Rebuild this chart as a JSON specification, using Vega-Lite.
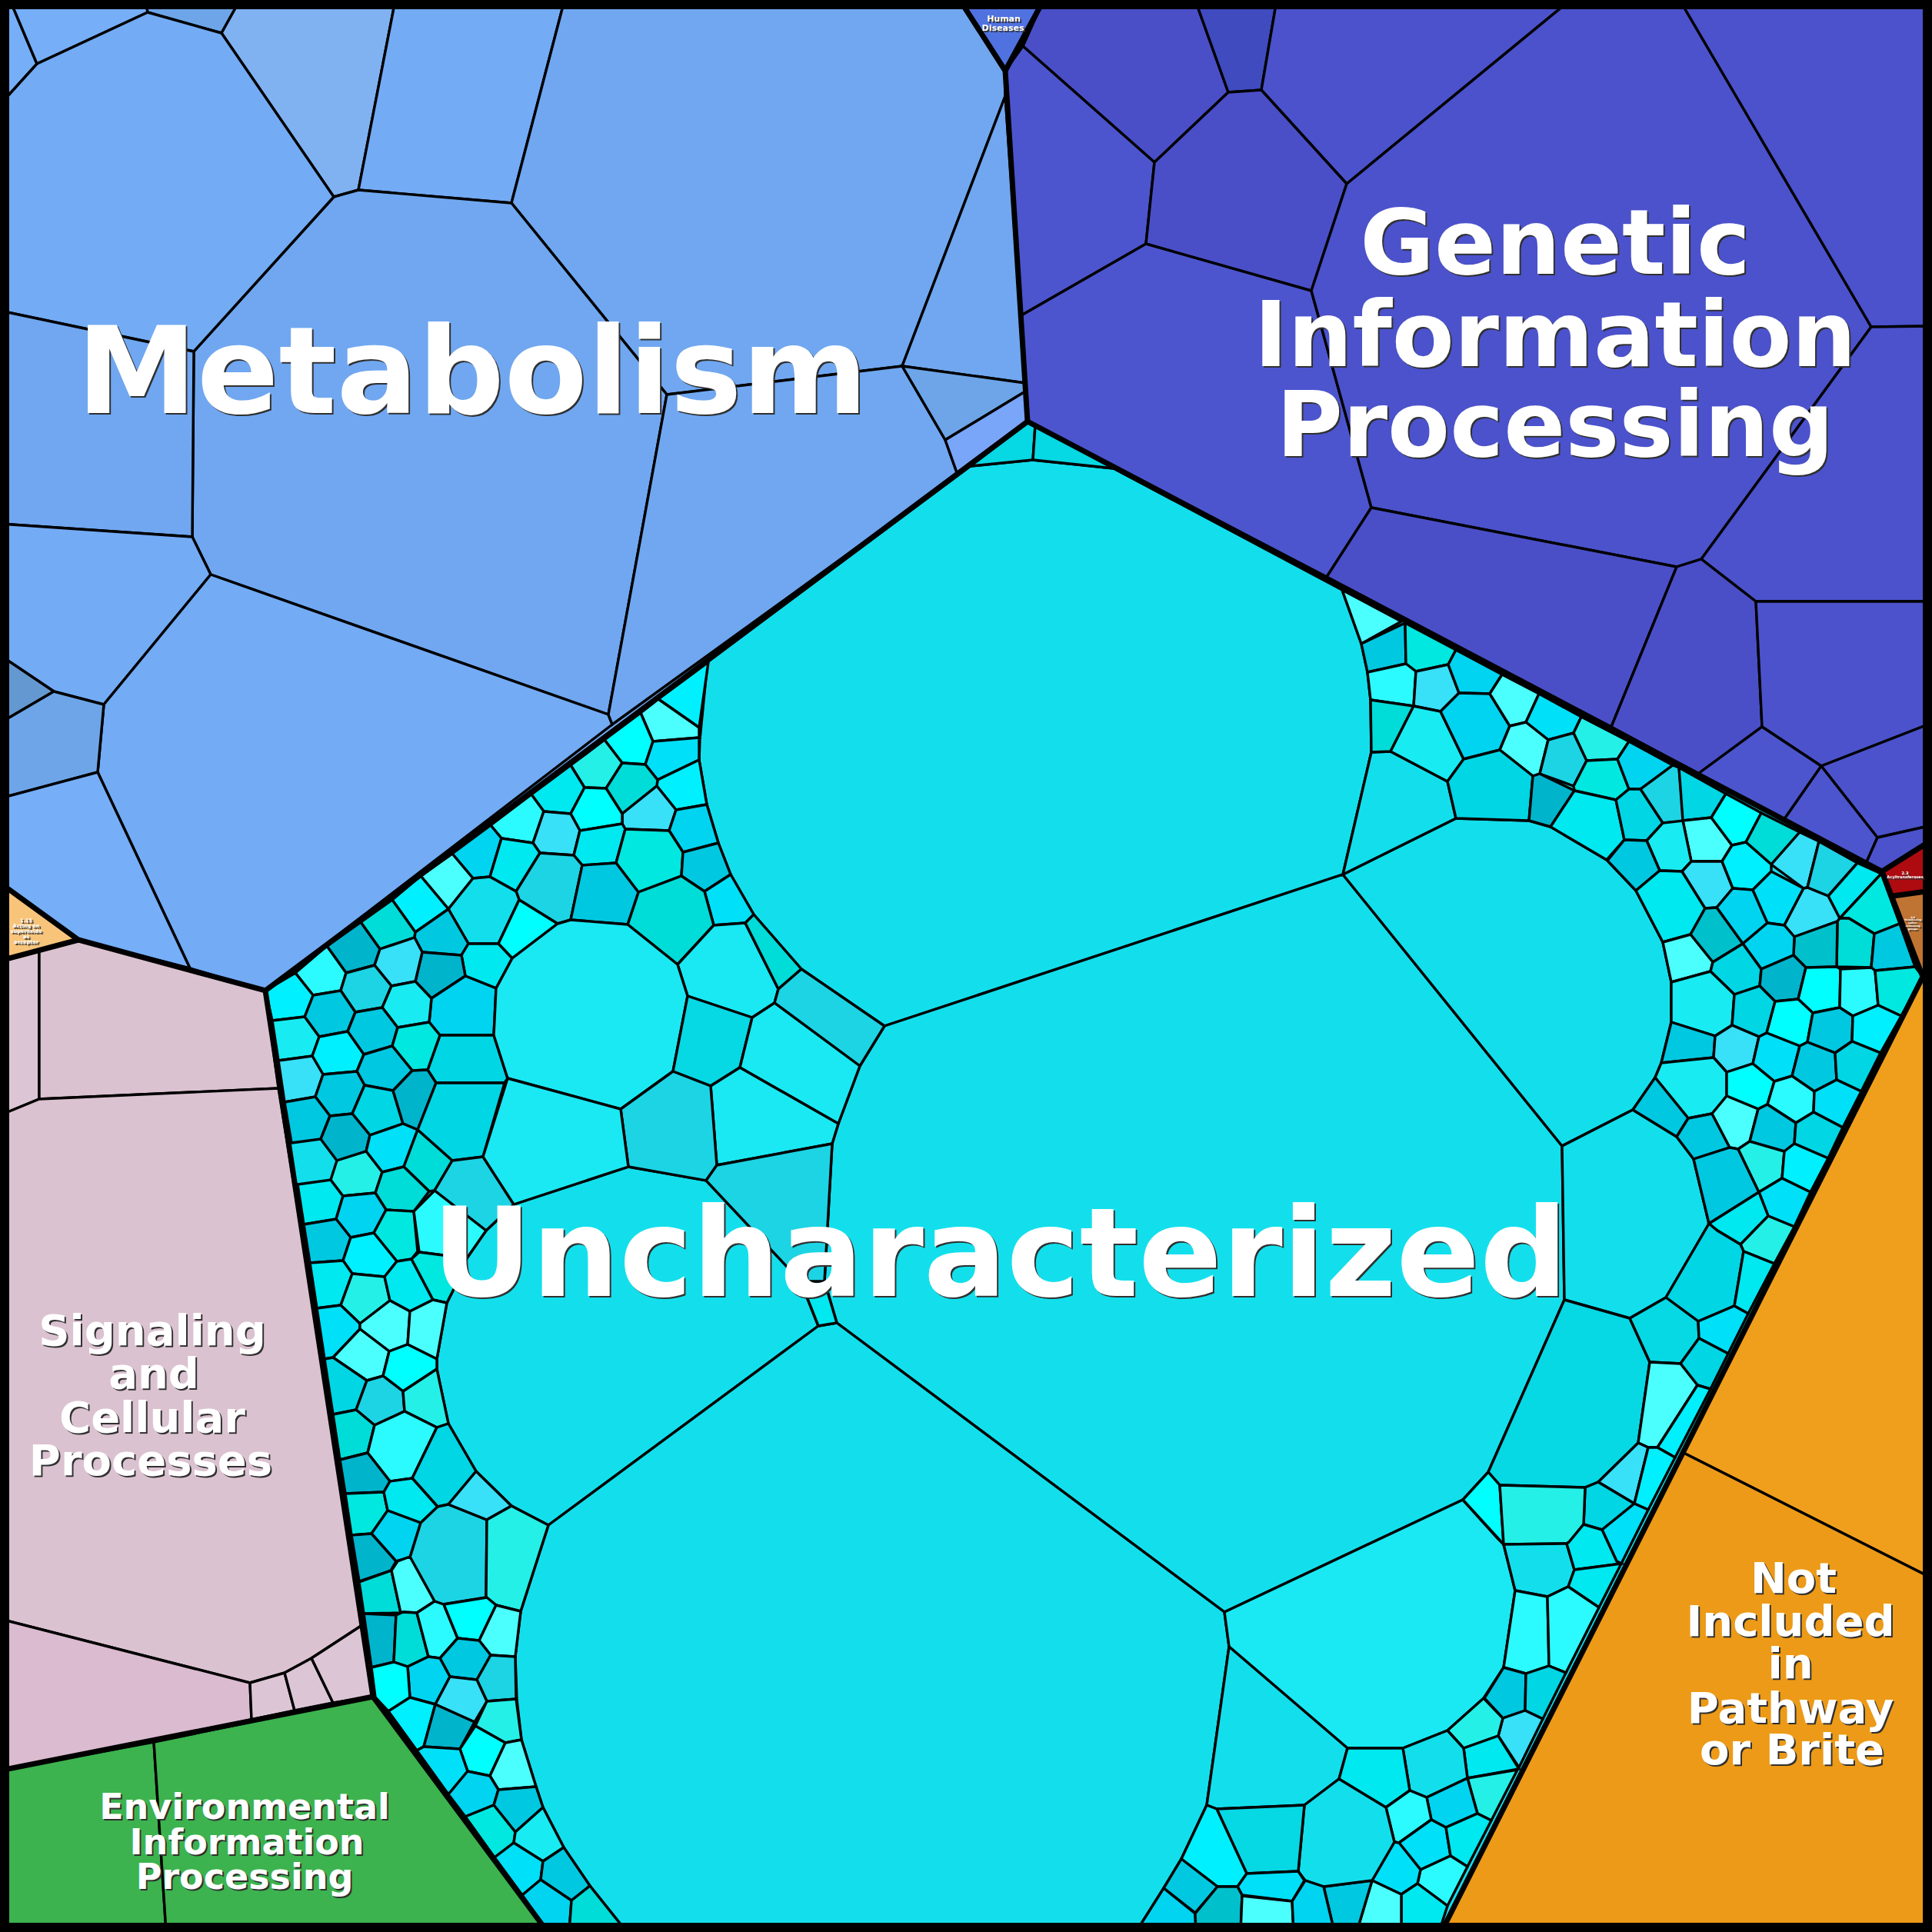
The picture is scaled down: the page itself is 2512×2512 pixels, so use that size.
{"$schema":"https://vega.github.io/schema/vega-lite/v6.json","width":2512,"height":2512,"padding":0,"autosize":"none","background":"white","config":{"view":{"stroke":null}},
"datasets":{
"cells":[
{"id":"R1","s":"mB","p":[[0,0],[1248,0],[1307,92],[1336,548],[345,1288],[102,1222],[0,1148]]},
{"id":"R2","s":"gA","p":[[1357,0],[2512,0],[2512,1092],[2447,1133],[1336,548],[1307,92]]},
{"id":"R3","s":"uP","p":[[345,1288],[1336,548],[2447,1133],[2500,1270],[1874,2512],[712,2512],[485,2206]]},
{"id":"m1","s":"mA","p":[[0,0],[13,0],[48,83],[0,136]]},
{"id":"m2","s":"mA","p":[[13,0],[189,0],[192,16],[48,83]]},
{"id":"m3","s":"mC","p":[[189,0],[312,0],[288,43],[192,16]]},
{"id":"m4","s":"mD","p":[[312,0],[514,0],[466,247],[434,256],[288,43]]},
{"id":"m5","s":"mG","p":[[514,0],[734,0],[665,264],[466,247]]},
{"id":"m6","s":"mB","p":[[734,0],[1248,0],[1307,92],[1307,125],[1173,476],[867,513],[665,264]]},
{"id":"m7","s":"mB","p":[[434,256],[466,247],[665,264],[867,513],[791,929],[274,747],[250,698],[252,457]]},
{"id":"m8","s":"mG","p":[[0,136],[48,83],[192,16],[288,43],[434,256],[252,457],[0,404]]},
{"id":"m9","s":"mB","p":[[0,404],[252,457],[250,698],[0,681]]},
{"id":"m10","s":"mG","p":[[0,681],[250,698],[274,747],[135,916],[70,899],[0,852]]},
{"id":"m11","s":"mG","p":[[274,747],[791,929],[796,942],[345,1288],[247,1259],[127,1004],[135,916]]},
{"id":"m12","s":"mE","p":[[0,852],[70,899],[0,940]]},
{"id":"m13","s":"mC","p":[[0,940],[70,899],[135,916],[127,1004],[0,1038]]},
{"id":"m14","s":"mA","p":[[0,1038],[127,1004],[247,1259],[102,1222],[0,1148]]},
{"id":"m15","s":"mB","p":[[867,513],[1173,476],[1229,572],[1245,617],[796,942],[791,929]]},
{"id":"m16","s":"mB","p":[[1173,476],[1307,125],[1333,498]]},
{"id":"m17","s":"mC","p":[[1173,476],[1333,498],[1333,509],[1229,572]]},
{"id":"m18","s":"mF","p":[[1229,572],[1333,509],[1336,548],[1245,617]]},
{"id":"h1","s":"hA","p":[[1248,0],[1357,0],[1307,92]]},
{"id":"g1","s":"gB","p":[[1357,0],[1554,0],[1597,120],[1501,211],[1330,60]]},
{"id":"g2","s":"gC","p":[[1554,0],[1660,0],[1640,117],[1597,120]]},
{"id":"g3","s":"gA","p":[[1660,0],[2042,0],[1751,239],[1640,117]]},
{"id":"g4","s":"gD","p":[[1330,60],[1501,211],[1490,317],[1328,410],[1307,92]]},
{"id":"g5","s":"gB","p":[[1501,211],[1597,120],[1640,117],[1751,239],[1705,378],[1490,317]]},
{"id":"g6","s":"gD","p":[[1328,410],[1490,317],[1705,378],[1783,660],[1725,750],[1336,548]]},
{"id":"g7","s":"gA","p":[[2042,0],[2184,0],[2433,425],[2212,727],[2180,737],[1783,660],[1705,378],[1751,239]]},
{"id":"g8","s":"gA","p":[[2184,0],[2512,0],[2512,424],[2433,425]]},
{"id":"g9","s":"gA","p":[[2433,425],[2512,424],[2512,782],[2283,782],[2212,727]]},
{"id":"g10","s":"gB","p":[[1783,660],[2180,737],[2095,945],[1725,750]]},
{"id":"g11","s":"gB","p":[[2180,737],[2212,727],[2283,782],[2291,945],[2208,1006],[2095,945]]},
{"id":"g12","s":"gA","p":[[2283,782],[2512,782],[2512,940],[2368,996],[2291,945]]},
{"id":"g13","s":"gD","p":[[2291,945],[2368,996],[2320,1065],[2208,1006]]},
{"id":"g14","s":"gA","p":[[2368,996],[2512,940],[2512,1073],[2441,1089]]},
{"id":"g15","s":"gD","p":[[2368,996],[2441,1089],[2425,1125],[2320,1065]]},
{"id":"g16","s":"gA","p":[[2441,1089],[2512,1073],[2512,1092],[2447,1133],[2425,1125]]},
{"id":"r1","s":"rA","p":[[2447,1133],[2512,1092],[2512,1158],[2461,1165]]},
{"id":"b1","s":"bA","p":[[2461,1165],[2512,1158],[2512,1275],[2500,1270]]},
{"id":"n1","s":"nA","p":[[2500,1270],[2512,1250],[2512,2052],[2187,1888]]},
{"id":"n2","s":"nB","p":[[2187,1888],[2512,2052],[2512,2512],[1874,2512]]},
{"id":"o1","s":"oA","p":[[0,1148],[102,1222],[0,1249]]},
{"id":"s1","s":"sB","p":[[0,1249],[51,1235],[51,1429],[0,1450]]},
{"id":"s2","s":"sA","p":[[51,1235],[102,1222],[345,1288],[362,1415],[51,1429]]},
{"id":"s3","s":"sA","p":[[0,1450],[51,1429],[362,1415],[474,2111],[405,2156],[370,2175],[325,2188],[0,2105]]},
{"id":"s4","s":"sC","p":[[0,2105],[325,2188],[327,2236],[0,2302]]},
{"id":"s5","s":"sB","p":[[325,2188],[370,2175],[383,2224],[327,2236]]},
{"id":"s6","s":"sB","p":[[370,2175],[405,2156],[433,2214],[383,2224]]},
{"id":"s7","s":"sB","p":[[405,2156],[474,2111],[485,2206],[433,2214]]},
{"id":"e1","s":"eA","p":[[0,2302],[200,2265],[216,2512],[0,2512]]},
{"id":"e2","s":"eA","p":[[200,2265],[485,2206],[712,2512],[216,2512]]},
{"id":"U1","s":"uP","p":[[920,860],[910,961],[909,988],[919,1046],[934,1096],[950,1137],[980,1189],[1042,1260],[1150,1334],[1746,1137],[1783,978],[1782,910],[1778,874],[1770,837],[1745,767],[1448,609],[1343,598],[1262,606]]},
{"id":"U1a","s":"uT","p":[[1262,606],[1343,598],[1346,553],[1336,548]]},
{"id":"U1b","s":"uT","p":[[1343,598],[1448,609],[1346,553]]},
{"id":"U2","s":"uP","p":[[1150,1334],[1746,1137],[2031,1490],[2034,1690],[1935,1914],[1902,1950],[1592,2096],[1088,1720],[1072,1666],[1082,1487],[1090,1461],[1118,1386]]},
{"id":"U3","s":"uP","p":[[668,1566],[817,1517],[920,1535],[1041,1666],[1064,1724],[713,1983],[665,1958],[619,1913],[583,1851],[568,1780],[568,1767],[581,1694],[590,1676],[607,1636],[632,1600]]},
{"id":"U4","s":"uP","p":[[713,1983],[1064,1724],[1088,1720],[1592,2096],[1598,2141],[1569,2347],[1536,2417],[1513,2455],[1477,2512],[815,2512],[767,2452],[733,2402],[706,2350],[697,2323],[678,2262],[672,2210],[670,2153],[677,2095]]},
{"id":"U5","s":"uQ","p":[[1592,2096],[1902,1950],[1947,2000],[1955,2008],[1970,2068],[1955,2168],[1929,2208],[1882,2250],[1824,2273],[1752,2273],[1598,2141]]},
{"id":"U6","s":"uP","p":[[1598,2141],[1752,2273],[1741,2313],[1696,2347],[1582,2352],[1569,2347]]},
{"id":"U7","s":"uP","p":[[1746,1137],[1893,1064],[1988,1067],[2016,1075],[2089,1118],[2127,1158],[2162,1225],[2173,1277],[2173,1329],[2160,1382],[2152,1401],[2123,1443],[2031,1490]]},
{"id":"U8","s":"uP","p":[[1783,978],[1808,977],[1882,1016],[1893,1064],[1746,1137]]},
{"id":"U9","s":"uP","p":[[2031,1490],[2123,1443],[2180,1478],[2202,1507],[2222,1591],[2166,1687],[2119,1714],[2034,1690]]},
{"id":"U10","s":"uT","p":[[2034,1690],[2119,1714],[2145,1771],[2130,1876],[2078,1927],[2061,1934],[1950,1931],[1935,1914]]},
{"id":"U11","s":"uC","p":[[1041,1666],[1072,1666],[1088,1720],[1064,1724]]},
{"id":"c1","s":"uB","p":[[921,861],[909,946],[856,909]]},
{"id":"c2","s":"uM","p":[[856,909],[909,946],[909,959],[849,964],[833,927]]},
{"id":"c3","s":"uA","p":[[833,927],[849,964],[839,994],[809,992],[786,962]]},
{"id":"c4","s":"uD","p":[[849,964],[909,959],[909,988],[855,1014],[839,994]]},
{"id":"c5","s":"uB","p":[[909,988],[919,1046],[879,1053],[854,1022],[855,1014]]},
{"id":"c6","s":"uK","p":[[786,962],[809,992],[788,1025],[760,1024],[742,995]]},
{"id":"c7","s":"uI","p":[[809,992],[839,994],[855,1014],[854,1022],[809,1058],[788,1025]]},
{"id":"c8","s":"uN","p":[[854,1022],[879,1053],[870,1080],[813,1078],[809,1071],[809,1058]]},
{"id":"c9","s":"uC","p":[[742,995],[760,1024],[742,1058],[707,1055],[691,1033]]},
{"id":"c10","s":"uA","p":[[760,1024],[788,1025],[809,1058],[809,1071],[754,1080],[742,1058]]},
{"id":"c11","s":"uL","p":[[691,1033],[707,1055],[693,1096],[652,1090],[638,1073]]},
{"id":"c12","s":"uN","p":[[707,1055],[742,1058],[754,1080],[746,1112],[702,1109],[693,1096]]},
{"id":"c13","s":"uC","p":[[754,1080],[809,1071],[813,1078],[801,1122],[757,1125],[746,1112]]},
{"id":"c14","s":"uE","p":[[919,1046],[934,1096],[888,1108],[870,1080],[879,1053]]},
{"id":"c15","s":"uJ","p":[[813,1078],[870,1080],[888,1108],[886,1139],[830,1160],[801,1122]]},
{"id":"c16","s":"uF","p":[[934,1096],[950,1137],[916,1159],[886,1139],[888,1108]]},
{"id":"c17","s":"uD","p":[[950,1137],[980,1189],[969,1200],[928,1203],[916,1159]]},
{"id":"c18","s":"uI","p":[[886,1139],[916,1159],[928,1203],[881,1254],[816,1202],[830,1160]]},
{"id":"c19","s":"uE","p":[[588,1110],[638,1073],[652,1090],[637,1140],[615,1142]]},
{"id":"c20","s":"uC","p":[[652,1090],[693,1096],[702,1109],[671,1159],[637,1140]]},
{"id":"c21","s":"uO","p":[[702,1109],[746,1112],[757,1125],[742,1196],[725,1201],[675,1170],[671,1159]]},
{"id":"c22","s":"uF","p":[[757,1125],[801,1122],[830,1160],[816,1202],[742,1196]]},
{"id":"c23","s":"uM","p":[[547,1139],[588,1110],[615,1142],[583,1182]]},
{"id":"c24","s":"uP","p":[[615,1142],[637,1140],[671,1159],[675,1170],[648,1227],[609,1227],[583,1182]]},
{"id":"c25","s":"uA","p":[[675,1170],[725,1201],[666,1246],[648,1227]]},
{"id":"c26","s":"uB","p":[[510,1170],[547,1139],[583,1182],[540,1212]]},
{"id":"c27","s":"uI","p":[[469,1199],[510,1170],[540,1212],[539,1219],[494,1234]]},
{"id":"c28","s":"uF","p":[[583,1182],[609,1227],[600,1242],[549,1238],[539,1219],[540,1212]]},
{"id":"c29","s":"uC","p":[[609,1227],[648,1227],[666,1246],[645,1285],[605,1269],[600,1242]]},
{"id":"c30","s":"uG","p":[[549,1238],[600,1242],[605,1269],[561,1298],[540,1276]]},
{"id":"c31","s":"uE","p":[[605,1269],[645,1285],[642,1346],[572,1346],[558,1329],[561,1298]]},
{"id":"c32","s":"uH","p":[[572,1346],[642,1346],[660,1402],[656,1408],[567,1408],[556,1391]]},
{"id":"c33","s":"uG","p":[[425,1230],[469,1199],[494,1234],[487,1255],[450,1265]]},
{"id":"c34","s":"uN","p":[[494,1234],[539,1219],[549,1238],[540,1276],[509,1282],[487,1255]]},
{"id":"c35","s":"uL","p":[[384,1265],[425,1230],[450,1265],[443,1288],[407,1294]]},
{"id":"c36","s":"uO","p":[[450,1265],[487,1255],[509,1282],[497,1310],[462,1316],[443,1288]]},
{"id":"c37","s":"uS","p":[[509,1282],[540,1276],[561,1298],[558,1329],[517,1336],[497,1310]]},
{"id":"c38","s":"uF","p":[[407,1294],[443,1288],[462,1316],[452,1341],[415,1348],[396,1322]]},
{"id":"c39","s":"uF","p":[[462,1316],[497,1310],[517,1336],[510,1360],[473,1371],[452,1341]]},
{"id":"c40","s":"uJ","p":[[517,1336],[558,1329],[572,1346],[556,1391],[536,1392],[510,1360]]},
{"id":"c41","s":"uB","p":[[345,1288],[384,1265],[407,1294],[396,1322],[354,1327]]},
{"id":"c42","s":"uS","p":[[354,1327],[396,1322],[415,1348],[406,1373],[362,1379]]},
{"id":"c43","s":"uB","p":[[415,1348],[452,1341],[473,1371],[464,1393],[420,1397],[406,1373]]},
{"id":"c44","s":"uN","p":[[362,1379],[406,1373],[420,1397],[410,1426],[370,1433]]},
{"id":"c45","s":"uF","p":[[473,1371],[510,1360],[536,1392],[511,1418],[474,1411],[464,1393]]},
{"id":"c46","s":"uF","p":[[420,1397],[464,1393],[474,1411],[458,1448],[429,1451],[410,1426]]},
{"id":"c47","s":"uH","p":[[474,1411],[511,1418],[524,1461],[481,1476],[458,1448]]},
{"id":"c48","s":"uG","p":[[536,1392],[556,1391],[567,1408],[543,1469],[524,1461],[511,1418]]},
{"id":"c49","s":"uF","p":[[370,1433],[410,1426],[429,1451],[417,1481],[379,1486]]},
{"id":"c50","s":"uG","p":[[429,1451],[458,1448],[481,1476],[476,1497],[438,1509],[417,1481]]},
{"id":"c51","s":"uD","p":[[481,1476],[524,1461],[543,1469],[525,1517],[497,1524],[476,1497]]},
{"id":"c52","s":"uH","p":[[543,1469],[567,1408],[656,1408],[628,1504],[588,1509]]},
{"id":"c53","s":"uI","p":[[543,1469],[588,1509],[565,1548],[558,1549],[525,1517]]},
{"id":"c54","s":"uO","p":[[588,1509],[628,1504],[668,1566],[632,1600],[565,1548]]},
{"id":"c55","s":"uC","p":[[387,1540],[430,1534],[446,1555],[437,1585],[395,1592]]},
{"id":"c56","s":"uK","p":[[438,1509],[476,1497],[497,1524],[488,1551],[446,1555],[430,1534]]},
{"id":"c57","s":"uI","p":[[497,1524],[525,1517],[558,1549],[538,1575],[502,1573],[488,1551]]},
{"id":"c58","s":"uE","p":[[446,1555],[488,1551],[502,1573],[486,1603],[456,1609],[437,1585]]},
{"id":"c59","s":"uF","p":[[395,1592],[437,1585],[456,1609],[446,1639],[403,1642]]},
{"id":"c60","s":"uJ","p":[[486,1603],[502,1573],[538,1575],[543,1627],[535,1637],[516,1640]]},
{"id":"c61","s":"uB","p":[[456,1609],[486,1603],[516,1640],[500,1660],[458,1656],[446,1639]]},
{"id":"c62","s":"uL","p":[[538,1575],[565,1548],[632,1600],[607,1636],[545,1628]]},
{"id":"c63","s":"uC","p":[[403,1642],[446,1639],[458,1656],[443,1697],[412,1701]]},
{"id":"c64","s":"uK","p":[[458,1656],[500,1660],[507,1691],[468,1721],[443,1697]]},
{"id":"c65","s":"uC","p":[[500,1660],[516,1640],[535,1637],[563,1690],[533,1705],[507,1691]]},
{"id":"c66","s":"uJ","p":[[535,1637],[545,1628],[607,1636],[590,1676],[581,1694],[563,1690]]},
{"id":"c67","s":"uD","p":[[412,1701],[443,1697],[468,1721],[468,1728],[433,1765],[422,1767]]},
{"id":"c68","s":"uM","p":[[468,1721],[507,1691],[533,1705],[530,1748],[506,1757],[468,1728]]},
{"id":"c69","s":"uM","p":[[533,1705],[563,1690],[581,1694],[568,1767],[530,1748]]},
{"id":"c70","s":"uM","p":[[433,1765],[468,1728],[506,1757],[498,1789],[477,1795]]},
{"id":"c71","s":"uA","p":[[506,1757],[530,1748],[568,1767],[568,1780],[524,1809],[498,1789]]},
{"id":"c72","s":"uH","p":[[422,1767],[433,1765],[477,1795],[463,1833],[433,1839]]},
{"id":"c73","s":"uO","p":[[477,1795],[498,1789],[524,1809],[526,1835],[487,1853],[463,1833]]},
{"id":"c74","s":"uK","p":[[524,1809],[568,1780],[583,1851],[568,1856],[526,1835]]},
{"id":"c75","s":"uI","p":[[433,1839],[463,1833],[487,1853],[478,1889],[442,1898]]},
{"id":"c76","s":"uL","p":[[487,1853],[526,1835],[568,1856],[536,1922],[507,1926],[478,1889]]},
{"id":"c77","s":"uH","p":[[568,1856],[583,1851],[619,1913],[583,1956],[569,1959],[536,1922]]},
{"id":"c78","s":"uG","p":[[442,1898],[478,1889],[507,1926],[499,1940],[449,1942]]},
{"id":"c79","s":"uJ","p":[[449,1942],[499,1940],[504,1964],[483,1994],[457,1996]]},
{"id":"c80","s":"uC","p":[[507,1926],[536,1922],[569,1959],[547,1980],[504,1964],[499,1940]]},
{"id":"c81","s":"uE","p":[[504,1964],[547,1980],[533,2025],[515,2030],[483,1994]]},
{"id":"c82","s":"uO","p":[[547,1980],[569,1959],[583,1956],[633,1976],[632,2077],[576,2086],[565,2082],[533,2025]]},
{"id":"c83","s":"uN","p":[[583,1956],[619,1913],[665,1958],[633,1976]]},
{"id":"c84","s":"uK","p":[[633,1976],[665,1958],[713,1983],[677,2095],[645,2087],[632,2077]]},
{"id":"c85","s":"uG","p":[[457,1996],[483,1994],[515,2030],[508,2042],[467,2056]]},
{"id":"c86","s":"uI","p":[[467,2057],[509,2042],[521,2097],[473,2098]]},
{"id":"c87","s":"uM","p":[[509,2042],[517,2030],[533,2024],[565,2082],[542,2097],[524,2096],[521,2097]]},
{"id":"c88","s":"uG","p":[[473,2098],[515,2100],[512,2161],[483,2168]]},
{"id":"c89","s":"uI","p":[[515,2100],[524,2096],[542,2097],[557,2154],[530,2167],[512,2161]]},
{"id":"c90","s":"uL","p":[[542,2097],[565,2082],[577,2086],[595,2130],[572,2156],[557,2154]]},
{"id":"c91","s":"uA","p":[[577,2086],[633,2077],[645,2087],[623,2133],[595,2130]]},
{"id":"c92","s":"uM","p":[[645,2087],[677,2095],[670,2154],[638,2152],[623,2133]]},
{"id":"c93","s":"uF","p":[[595,2130],[623,2133],[638,2152],[620,2184],[585,2180],[572,2156]]},
{"id":"c94","s":"uO","p":[[638,2152],[670,2154],[671,2209],[633,2212],[620,2184]]},
{"id":"c95","s":"uE","p":[[530,2167],[557,2154],[572,2156],[585,2180],[566,2216],[533,2207]]},
{"id":"c96","s":"uN","p":[[585,2180],[620,2184],[633,2212],[617,2239],[566,2216]]},
{"id":"c97","s":"uA","p":[[483,2168],[512,2161],[530,2167],[533,2207],[505,2225],[488,2207]]},
{"id":"c98","s":"uB","p":[[505,2225],[533,2207],[566,2216],[551,2271],[542,2276]]},
{"id":"c99","s":"uG","p":[[566,2216],[617,2239],[598,2274],[551,2271]]},
{"id":"c100","s":"uK","p":[[633,2212],[671,2209],[678,2262],[657,2266],[618,2244]]},
{"id":"c101","s":"uA","p":[[618,2244],[657,2266],[637,2309],[608,2303],[598,2274]]},
{"id":"c102","s":"uM","p":[[657,2266],[678,2262],[697,2323],[648,2327],[637,2309]]},
{"id":"c103","s":"uD","p":[[542,2276],[551,2271],[598,2274],[608,2303],[583,2333]]},
{"id":"c104","s":"uE","p":[[608,2303],[637,2309],[648,2327],[642,2347],[605,2362],[583,2333]]},
{"id":"c105","s":"uF","p":[[648,2327],[697,2323],[706,2350],[670,2382],[642,2347]]},
{"id":"c106","s":"uJ","p":[[605,2362],[642,2347],[670,2382],[668,2396],[643,2415]]},
{"id":"c107","s":"uS","p":[[670,2382],[706,2350],[733,2402],[706,2420],[668,2396]]},
{"id":"c108","s":"uD","p":[[643,2415],[668,2396],[706,2420],[703,2444],[679,2464]]},
{"id":"c109","s":"uF","p":[[706,2420],[733,2402],[767,2452],[743,2471],[703,2444]]},
{"id":"c110","s":"uE","p":[[679,2464],[703,2444],[743,2471],[740,2512],[712,2512]]},
{"id":"c111","s":"uI","p":[[743,2471],[767,2452],[815,2512],[740,2512]]},
{"id":"c112","s":"uM","p":[[1745,767],[1822,808],[1770,837]]},
{"id":"c113","s":"uF","p":[[1770,837],[1827,810],[1828,863],[1778,874]]},
{"id":"c114","s":"uJ","p":[[1827,810],[1893,845],[1883,864],[1841,873],[1828,863]]},
{"id":"c115","s":"uL","p":[[1778,874],[1828,863],[1841,873],[1838,918],[1782,910]]},
{"id":"c116","s":"uN","p":[[1841,873],[1883,864],[1897,901],[1873,925],[1838,918]]},
{"id":"c117","s":"uE","p":[[1883,864],[1893,845],[1953,877],[1937,902],[1897,901]]},
{"id":"c118","s":"uI","p":[[1782,910],[1838,918],[1808,977],[1783,978]]},
{"id":"c119","s":"uS","p":[[1838,918],[1873,925],[1903,987],[1882,1016],[1808,977]]},
{"id":"c120","s":"uE","p":[[1873,925],[1897,901],[1937,902],[1963,944],[1950,975],[1903,987]]},
{"id":"c121","s":"uM","p":[[1937,902],[1953,877],[2001,902],[1984,939],[1963,944]]},
{"id":"c122","s":"uD","p":[[2001,902],[2056,932],[2046,953],[2013,962],[1984,939]]},
{"id":"c123","s":"uM","p":[[1963,944],[1984,939],[2013,962],[2002,1006],[1993,1009],[1950,975]]},
{"id":"c124","s":"uO","p":[[2013,962],[2046,953],[2063,989],[2046,1022],[2002,1006]]},
{"id":"c125","s":"uK","p":[[2056,932],[2118,964],[2103,987],[2063,989],[2046,953]]},
{"id":"c126","s":"uH","p":[[1882,1016],[1903,987],[1950,975],[1993,1009],[1988,1067],[1893,1064]]},
{"id":"c127","s":"uG","p":[[1993,1009],[2002,1006],[2047,1028],[2016,1075],[1988,1067]]},
{"id":"c128","s":"uJ","p":[[2063,989],[2103,987],[2118,1026],[2101,1040],[2047,1028],[2046,1022]]},
{"id":"c129","s":"uE","p":[[2118,964],[2175,995],[2133,1026],[2118,1026],[2103,987]]},
{"id":"c130","s":"uC","p":[[2047,1028],[2101,1040],[2112,1092],[2089,1118],[2016,1075]]},
{"id":"c131","s":"uH","p":[[2101,1040],[2118,1026],[2133,1026],[2162,1070],[2141,1093],[2112,1092]]},
{"id":"c132","s":"uO","p":[[2133,1026],[2175,995],[2183,998],[2189,1068],[2162,1070]]},
{"id":"c133","s":"uH","p":[[2183,998],[2244,1032],[2225,1063],[2188,1067]]},
{"id":"c134","s":"uM","p":[[2188,1067],[2225,1063],[2252,1099],[2239,1120],[2199,1120]]},
{"id":"c135","s":"uA","p":[[2225,1063],[2244,1032],[2290,1057],[2270,1095],[2252,1099]]},
{"id":"c136","s":"uI","p":[[2290,1057],[2340,1082],[2303,1124],[2270,1095]]},
{"id":"c137","s":"uN","p":[[2303,1124],[2340,1082],[2365,1094],[2350,1154],[2345,1155]]},
{"id":"c138","s":"uO","p":[[2365,1094],[2415,1122],[2377,1165],[2350,1154]]},
{"id":"c139","s":"uC","p":[[2415,1122],[2446,1136],[2392,1194],[2377,1165]]},
{"id":"c140","s":"uJ","p":[[2446,1136],[2470,1201],[2437,1214],[2404,1194],[2392,1194]]},
{"id":"c141","s":"uS","p":[[2141,1093],[2162,1070],[2188,1067],[2199,1120],[2187,1133],[2158,1132]]},
{"id":"c142","s":"uF","p":[[2112,1092],[2141,1093],[2158,1132],[2127,1158],[2090,1119]]},
{"id":"c143","s":"uC","p":[[2158,1132],[2187,1133],[2217,1181],[2198,1215],[2162,1225],[2127,1158]]},
{"id":"c144","s":"uN","p":[[2187,1133],[2199,1120],[2239,1120],[2253,1155],[2232,1180],[2217,1181]]},
{"id":"c145","s":"uB","p":[[2239,1120],[2252,1099],[2270,1095],[2303,1124],[2303,1133],[2279,1157],[2253,1155]]},
{"id":"c146","s":"uE","p":[[2253,1155],[2279,1157],[2298,1200],[2266,1227],[2232,1180]]},
{"id":"c147","s":"uD","p":[[2279,1157],[2303,1133],[2345,1155],[2320,1203],[2298,1200]]},
{"id":"c148","s":"uN","p":[[2345,1155],[2350,1154],[2377,1165],[2392,1194],[2389,1198],[2333,1218],[2320,1203]]},
{"id":"c149","s":"uI","p":[[2392,1194],[2404,1194],[2437,1214],[2433,1258],[2388,1257],[2389,1198]]},
{"id":"c150","s":"uF","p":[[2437,1214],[2470,1201],[2490,1257],[2438,1262],[2433,1258]]},
{"id":"c151","s":"uR","p":[[2333,1218],[2389,1198],[2388,1257],[2348,1258],[2332,1242]]},
{"id":"c152","s":"uE","p":[[2298,1200],[2320,1203],[2333,1218],[2332,1242],[2290,1260],[2266,1227]]},
{"id":"c153","s":"uR","p":[[2217,1181],[2232,1180],[2266,1227],[2227,1251],[2198,1215]]},
{"id":"c154","s":"uM","p":[[2162,1225],[2198,1215],[2227,1251],[2224,1263],[2173,1277]]},
{"id":"c155","s":"uH","p":[[2227,1251],[2266,1227],[2290,1260],[2288,1282],[2255,1293],[2224,1263]]},
{"id":"c156","s":"uG","p":[[2290,1260],[2332,1242],[2348,1258],[2338,1299],[2308,1302],[2288,1282]]},
{"id":"c157","s":"uA","p":[[2348,1258],[2388,1257],[2393,1260],[2392,1310],[2357,1317],[2338,1299]]},
{"id":"c158","s":"uL","p":[[2393,1260],[2433,1258],[2438,1262],[2442,1307],[2409,1321],[2392,1310]]},
{"id":"c159","s":"uJ","p":[[2438,1262],[2490,1257],[2500,1270],[2472,1321],[2442,1307]]},
{"id":"c160","s":"uS","p":[[2173,1277],[2224,1263],[2255,1293],[2252,1333],[2230,1347],[2173,1329]]},
{"id":"c161","s":"uH","p":[[2255,1293],[2288,1282],[2308,1302],[2297,1343],[2287,1348],[2252,1333]]},
{"id":"c162","s":"uA","p":[[2308,1302],[2338,1299],[2357,1317],[2350,1355],[2340,1360],[2297,1343]]},
{"id":"c163","s":"uF","p":[[2357,1317],[2392,1310],[2409,1321],[2408,1354],[2386,1369],[2350,1355]]},
{"id":"c164","s":"uB","p":[[2409,1321],[2442,1307],[2472,1321],[2445,1369],[2408,1354]]},
{"id":"c165","s":"uF","p":[[2173,1329],[2230,1347],[2228,1375],[2160,1382]]},
{"id":"c166","s":"uN","p":[[2230,1347],[2252,1333],[2287,1348],[2279,1383],[2245,1394],[2228,1375]]},
{"id":"c167","s":"uD","p":[[2287,1348],[2297,1343],[2340,1360],[2330,1399],[2307,1406],[2279,1383]]},
{"id":"c168","s":"uF","p":[[2340,1360],[2350,1355],[2386,1369],[2388,1404],[2359,1419],[2330,1399]]},
{"id":"c169","s":"uH","p":[[2386,1369],[2408,1354],[2445,1369],[2420,1419],[2388,1404]]},
{"id":"c170","s":"uS","p":[[2160,1382],[2228,1375],[2245,1394],[2245,1425],[2226,1448],[2195,1454],[2152,1401]]},
{"id":"c171","s":"uA","p":[[2245,1394],[2279,1383],[2307,1406],[2298,1436],[2286,1442],[2245,1425]]},
{"id":"c172","s":"uL","p":[[2307,1406],[2330,1399],[2359,1419],[2358,1446],[2335,1460],[2298,1436]]},
{"id":"c173","s":"uD","p":[[2359,1419],[2388,1404],[2420,1419],[2396,1466],[2358,1446]]},
{"id":"c174","s":"uF","p":[[2152,1401],[2195,1454],[2180,1478],[2123,1443]]},
{"id":"c175","s":"uF","p":[[2195,1454],[2226,1448],[2249,1492],[2202,1507],[2180,1478]]},
{"id":"c176","s":"uM","p":[[2226,1448],[2245,1425],[2286,1442],[2275,1484],[2260,1494],[2249,1492]]},
{"id":"c177","s":"uF","p":[[2286,1442],[2298,1436],[2335,1460],[2333,1487],[2320,1497],[2275,1484]]},
{"id":"c178","s":"uH","p":[[2335,1460],[2358,1446],[2396,1466],[2377,1506],[2333,1487]]},
{"id":"c179","s":"uF","p":[[2202,1507],[2249,1492],[2260,1494],[2287,1550],[2222,1591]]},
{"id":"c180","s":"uK","p":[[2260,1494],[2275,1484],[2320,1497],[2317,1532],[2287,1550]]},
{"id":"c181","s":"uB","p":[[2320,1497],[2333,1487],[2377,1506],[2354,1550],[2317,1532]]},
{"id":"c182","s":"uD","p":[[2287,1550],[2317,1532],[2354,1550],[2333,1595],[2299,1581]]},
{"id":"c183","s":"uC","p":[[2222,1591],[2287,1550],[2299,1581],[2263,1618],[2233,1600]]},
{"id":"c184","s":"uK","p":[[2299,1581],[2333,1595],[2307,1643],[2267,1627],[2263,1618]]},
{"id":"c185","s":"uH","p":[[2222,1591],[2233,1600],[2263,1618],[2267,1627],[2255,1698],[2208,1718],[2166,1687]]},
{"id":"c186","s":"uC","p":[[2267,1627],[2307,1643],[2273,1708],[2255,1698]]},
{"id":"c187","s":"uT","p":[[2166,1687],[2208,1718],[2209,1740],[2185,1773],[2145,1771],[2119,1714]]},
{"id":"c188","s":"uD","p":[[2208,1718],[2255,1698],[2273,1708],[2247,1760],[2209,1740]]},
{"id":"c189","s":"uH","p":[[2209,1740],[2247,1760],[2224,1806],[2207,1801],[2185,1773]]},
{"id":"c190","s":"uM","p":[[2145,1771],[2185,1773],[2207,1801],[2155,1882],[2143,1882],[2130,1876]]},
{"id":"c191","s":"uB","p":[[2207,1801],[2224,1806],[2178,1895],[2155,1882]]},
{"id":"c192","s":"uN","p":[[2130,1876],[2143,1882],[2125,1955],[2078,1927]]},
{"id":"c193","s":"uB","p":[[2143,1882],[2155,1882],[2178,1895],[2143,1963],[2125,1955]]},
{"id":"c194","s":"uH","p":[[2061,1934],[2078,1927],[2125,1955],[2083,1989],[2059,1982]]},
{"id":"c195","s":"uD","p":[[2083,1989],[2125,1955],[2143,1963],[2108,2033],[2102,2030]]},
{"id":"c196","s":"uA","p":[[1902,1950],[1935,1914],[1950,1931],[1955,2008]]},
{"id":"c197","s":"uK","p":[[1950,1931],[2061,1934],[2059,1982],[2040,2005],[2037,2007],[1955,2008]]},
{"id":"c198","s":"uP","p":[[1955,2008],[2037,2007],[2047,2041],[2039,2063],[2012,2076],[1970,2068]]},
{"id":"c199","s":"uC","p":[[2040,2005],[2059,1982],[2083,1989],[2102,2030],[2108,2033],[2047,2041],[2037,2007]]},
{"id":"c200","s":"uC","p":[[2047,2041],[2108,2033],[2079,2090],[2039,2063]]},
{"id":"c201","s":"uL","p":[[1970,2068],[2012,2076],[2014,2166],[1984,2176],[1955,2168]]},
{"id":"c202","s":"uL","p":[[2012,2076],[2039,2063],[2079,2090],[2036,2175],[2014,2166]]},
{"id":"c203","s":"uF","p":[[1955,2168],[1984,2176],[1983,2224],[1954,2234],[1930,2208]]},
{"id":"c204","s":"uH","p":[[1984,2176],[2014,2166],[2036,2175],[2006,2235],[1983,2224]]},
{"id":"c205","s":"uN","p":[[1954,2234],[1983,2224],[2006,2235],[1975,2298],[1948,2257]]},
{"id":"c206","s":"uK","p":[[1929,2208],[1954,2234],[1948,2257],[1903,2273],[1882,2250]]},
{"id":"c207","s":"uC","p":[[1903,2273],[1948,2257],[1975,2300],[1908,2312]]},
{"id":"c208","s":"uP","p":[[1824,2273],[1882,2250],[1903,2273],[1908,2312],[1855,2337],[1833,2328]]},
{"id":"c209","s":"uC","p":[[1752,2273],[1824,2273],[1833,2328],[1802,2350],[1741,2313]]},
{"id":"c210","s":"uK","p":[[1908,2312],[1973,2301],[1939,2367],[1921,2358]]},
{"id":"c211","s":"uE","p":[[1855,2337],[1908,2312],[1921,2358],[1880,2376],[1861,2366]]},
{"id":"c212","s":"uL","p":[[1802,2350],[1833,2328],[1855,2337],[1861,2366],[1819,2396],[1813,2395]]},
{"id":"c213","s":"uD","p":[[1819,2396],[1861,2366],[1880,2376],[1886,2413],[1847,2431]]},
{"id":"c214","s":"uC","p":[[1880,2376],[1921,2358],[1939,2367],[1908,2427],[1886,2413]]},
{"id":"c215","s":"uL","p":[[1847,2431],[1886,2413],[1908,2427],[1882,2478],[1843,2449]]},
{"id":"c216","s":"uD","p":[[1813,2395],[1819,2396],[1847,2431],[1843,2449],[1822,2463],[1784,2445]]},
{"id":"c217","s":"uC","p":[[1843,2449],[1882,2478],[1871,2512],[1822,2512],[1822,2463]]},
{"id":"c218","s":"uM","p":[[1784,2445],[1822,2463],[1822,2512],[1764,2512]]},
{"id":"c219","s":"uF","p":[[1721,2453],[1784,2445],[1764,2512],[1735,2512]]},
{"id":"c220","s":"uP","p":[[1696,2347],[1741,2313],[1802,2350],[1813,2395],[1784,2445],[1721,2453],[1697,2445],[1688,2433]]},
{"id":"c221","s":"uT","p":[[1582,2352],[1696,2347],[1688,2433],[1621,2436]]},
{"id":"c222","s":"uB","p":[[1569,2347],[1582,2352],[1621,2436],[1609,2453],[1583,2453],[1536,2417]]},
{"id":"c223","s":"uD","p":[[1621,2436],[1688,2433],[1696,2445],[1680,2472],[1615,2464],[1609,2453]]},
{"id":"c224","s":"uF","p":[[1536,2417],[1583,2453],[1554,2487],[1513,2455]]},
{"id":"c225","s":"uE","p":[[1513,2455],[1554,2488],[1555,2512],[1477,2512]]},
{"id":"c226","s":"uR","p":[[1583,2453],[1609,2453],[1615,2464],[1613,2512],[1555,2512],[1554,2488]]},
{"id":"c227","s":"uM","p":[[1615,2465],[1680,2472],[1682,2512],[1613,2512]]},
{"id":"c228","s":"uE","p":[[1680,2472],[1697,2445],[1721,2453],[1735,2512],[1682,2512]]},
{"id":"d2","s":"uQ","p":[[881,1254],[928,1203],[969,1200],[1012,1286],[1007,1304],[978,1323],[894,1295]]},
{"id":"d3","s":"uI","p":[[980,1189],[1042,1260],[1012,1286],[969,1200]]},
{"id":"d4","s":"uQ","p":[[725,1201],[742,1196],[816,1202],[881,1254],[894,1295],[875,1393],[807,1442],[660,1402],[642,1346],[645,1285],[666,1246]]},
{"id":"d5","s":"uT","p":[[894,1295],[978,1323],[962,1388],[924,1412],[875,1393]]},
{"id":"d6","s":"uO","p":[[1007,1304],[1012,1286],[1042,1260],[1150,1334],[1118,1386]]},
{"id":"d7","s":"uQ","p":[[978,1323],[1007,1304],[1118,1386],[1090,1461],[962,1388]]},
{"id":"d8","s":"uQ","p":[[962,1388],[1090,1461],[1082,1487],[932,1515],[924,1412]]},
{"id":"d9","s":"uO","p":[[875,1393],[924,1412],[932,1515],[918,1535],[817,1517],[807,1442]]},
{"id":"d10","s":"uQ","p":[[660,1402],[807,1442],[817,1517],[668,1566],[628,1504]]},
{"id":"d11","s":"uO","p":[[932,1515],[1082,1487],[1072,1666],[1041,1666],[918,1535]]}
],
"seps":[
{"id":"a","p":[[0,1148],[102,1222],[345,1288],[1336,548],[1307,92],[1248,0]]},
{"id":"b","p":[[1307,92],[1357,0]]},
{"id":"c","p":[[1336,548],[2447,1133],[2512,1092]]},
{"id":"d","p":[[2447,1133],[2500,1270],[1874,2512]]},
{"id":"e","p":[[2461,1165],[2512,1158]]},
{"id":"f","p":[[0,1249],[102,1222]]},
{"id":"g","p":[[345,1288],[485,2206],[712,2512]]},
{"id":"h","p":[[485,2206],[0,2302]]}
],
"frame":[{"id":"frame","p":[[6,6],[2506,6],[2506,2506],[6,2506]]}],
"labels":[
{"t":"Metabolism","x":614,"y":537,"tier":"huge2"},
{"t":"Uncharacterized","x":1300,"y":1685,"tier":"huge"},
{"t":"Genetic","x":2022,"y":356,"tier":"large"},
{"t":"Information","x":2022,"y":476,"tier":"large"},
{"t":"Processing","x":2022,"y":593,"tier":"large"},
{"t":"Not","x":2332,"y":2071,"tier":"mid"},
{"t":"Included","x":2328,"y":2127,"tier":"mid"},
{"t":"in","x":2328,"y":2182,"tier":"mid"},
{"t":"Pathway","x":2328,"y":2240,"tier":"mid"},
{"t":"or Brite","x":2330,"y":2294,"tier":"mid"},
{"t":"Signaling","x":198,"y":1749,"tier":"mid"},
{"t":"and","x":200,"y":1805,"tier":"mid"},
{"t":"Cellular","x":198,"y":1862,"tier":"mid"},
{"t":"Processes","x":196,"y":1918,"tier":"mid"},
{"t":"Environmental","x":318,"y":2365,"tier":"small"},
{"t":"Information","x":321,"y":2411,"tier":"small"},
{"t":"Processing","x":318,"y":2456,"tier":"small"},
{"t":"Human","x":1305,"y":28,"tier":"hd"},
{"t":"Diseases","x":1304,"y":40,"tier":"hd"},
{"t":"2.3","x":2477,"y":1137,"tier":"tiny"},
{"t":"Acyltransferases","x":2477,"y":1142,"tier":"tiny"},
{"t":"1.15","x":34,"y":1199,"tier":"ec"},
{"t":"Acting on","x":34,"y":1206,"tier":"ec"},
{"t":"superoxide","x":34,"y":1213,"tier":"ec"},
{"t":"as","x":34,"y":1220,"tier":"ec"},
{"t":"acceptor","x":34,"y":1227,"tier":"ec"},
{"t":"2.8","x":2487,"y":1194,"tier":"micro"},
{"t":"Transferring","x":2487,"y":1197,"tier":"micro"},
{"t":"sulfur-","x":2487,"y":1201,"tier":"micro"},
{"t":"containing","x":2487,"y":1205,"tier":"micro"},
{"t":"groups","x":2487,"y":1209,"tier":"micro"}
]},
"layer":[
{"data":{"name":"cells"},"transform":[{"flatten":["p"]}],
"mark":{"type":"line","filled":true,"interpolate":"linear-closed","stroke":"black","strokeWidth":3.4,"strokeJoin":"miter"},
"encoding":{
"x":{"field":"p[0]","type":"quantitative","axis":null,"scale":{"domain":[0,2512],"nice":false,"zero":false}},
"y":{"field":"p[1]","type":"quantitative","axis":null,"scale":{"domain":[0,2512],"nice":false,"zero":false,"reverse":true}},
"detail":{"field":"id","type":"nominal"},
"order":{"value":null},
"color":{"field":"s","type":"nominal","legend":null,"scale":{
"domain":["uA","uB","uC","uD","uE","uF","uG","uH","uI","uJ","uK","uL","uM","uN","uO","uP","uQ","uR","uS","uT","mA","mB","mC","mD","mE","mF","mG","gA","gB","gC","gD","hA","rA","bA","nA","nB","oA","sA","sB","sC","eA"],
"range":["#00FFFF","#00F0FF","#00E8F0","#00E0F8","#00D4F0","#00C8E0","#00B4CC","#00D6E4","#00DCD8","#00E8E0","#24F0E8","#2BFBFF","#4CFFFF","#38E0F8","#1CD4E4","#13DFEC","#1AE9F3","#00C0CC","#18ECF2","#06D8E4","#76AEF8","#70A7F0","#6DA5E8","#80B2F2","#6498D0","#7AA6FA","#73ABF5","#4B52CB","#4A4FC8","#3F4BBF","#4C55CE","#5072E0","#AE0B10","#C07433","#EF9F1C","#EC9A17","#F8C47A","#DBC2D0","#DCC6D6","#DBBBD0","#3CB34E"]}}
}},
{"data":{"name":"seps"},"transform":[{"flatten":["p"]}],
"mark":{"type":"line","stroke":"black","strokeWidth":7,"strokeJoin":"miter"},
"encoding":{"x":{"field":"p[0]","type":"quantitative"},"y":{"field":"p[1]","type":"quantitative"},"detail":{"field":"id","type":"nominal"},"order":{"value":null}}},
{"data":{"name":"frame"},"transform":[{"flatten":["p"]}],
"mark":{"type":"line","interpolate":"linear-closed","stroke":"black","strokeWidth":12,"strokeJoin":"miter"},
"encoding":{"x":{"field":"p[0]","type":"quantitative"},"y":{"field":"p[1]","type":"quantitative"},"detail":{"field":"id","type":"nominal"},"order":{"value":null}}},
{"data":{"name":"labels"},
"mark":{"type":"text","font":"DejaVu Sans","fontWeight":"bold","align":"center","baseline":"alphabetic","dx":2,"dy":2,"fill":"#303030"},
"encoding":{"x":{"field":"x","type":"quantitative"},"y":{"field":"y","type":"quantitative"},"text":{"field":"t"},
"size":{"field":"tier","type":"ordinal","legend":null,"scale":{"type":"ordinal","domain":["huge","huge2","large","mid","small","hd","ec","tiny","micro"],"range":[160,157,118,56,46,11,6.5,5,3.2]}}}},
{"data":{"name":"labels"},
"mark":{"type":"text","font":"DejaVu Sans","fontWeight":"bold","align":"center","baseline":"alphabetic","fill":"white"},
"encoding":{"x":{"field":"x","type":"quantitative"},"y":{"field":"y","type":"quantitative"},"text":{"field":"t"},
"size":{"field":"tier","type":"ordinal","legend":null,"scale":{"type":"ordinal","domain":["huge","huge2","large","mid","small","hd","ec","tiny","micro"],"range":[160,157,118,56,46,11,6.5,5,3.2]}}}}
]}
